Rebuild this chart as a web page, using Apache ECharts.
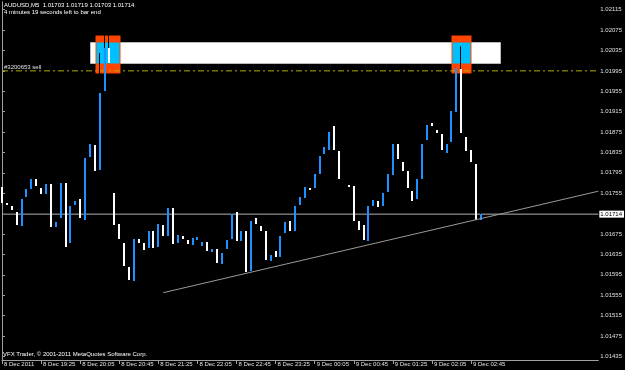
<!DOCTYPE html>
<html><head><meta charset="utf-8">
<script src="https://cdn.jsdelivr.net/npm/echarts@6/dist/echarts.min.js"></script>
<style>html,body{margin:0;padding:0;background:#000}#c{width:625px;height:370px}</style>
</head><body><div id="c"></div>
<script>
// AUDUSD M5 bars, 8 Dec 2011 18:45 -> 9 Dec 2011 02:55
const opens = [1.01767,1.01736,1.01729,1.01718,1.01691,1.01747,1.01763,1.01783,1.01765,1.01754,
1.01773,1.01689,1.01706,1.01775,1.01656,1.01732,1.01743,1.01703,1.01826,1.01850,
1.01801,1.01954,1.02039,1.01755,1.01695,1.01657,1.01610,1.01582,1.01665,1.01658,
1.01647,1.01680,1.01649,1.01692,1.01671,1.01726,1.01657,1.01671,1.01664,1.01654,
1.01665,1.01652,1.01659,1.01641,1.01646,1.01616,1.01646,1.01666,1.01718,1.01662,
1.01681,1.01602,1.01706,1.01691,1.01681,1.01622,1.01641,1.01631,1.01677,1.01700,
1.01679,1.01732,1.01745,1.01765,1.01765,1.01793,1.01832,1.01841,1.01887,1.01837,
1.01783,1.01771,1.01770,1.01701,1.01693,1.01660,1.01730,1.01739,1.01731,1.01758,
1.01790,1.01851,1.01817,1.01799,1.01760,1.01744,1.01783,1.01860,1.01892,1.01879,
1.01871,1.01835,1.01855,1.01914,1.01999,1.01866,1.01840,1.01812,1.01703];
const closes = [1.01736,1.01732,1.01722,1.01693,1.01743,1.01763,1.01783,1.01770,1.01753,1.01773,
1.01689,1.01698,1.01775,1.01649,1.01729,1.01739,1.01706,1.01824,1.01852,1.01799,
1.01952,1.02039,1.02010,1.01693,1.01666,1.01611,1.01585,1.01665,1.01658,1.01645,
1.01680,1.01647,1.01694,1.01671,1.01726,1.01656,1.01673,1.01665,1.01656,1.01667,
1.01670,1.01660,1.01641,1.01646,1.01618,1.01638,1.01664,1.01715,1.01662,1.01681,
1.01600,1.01701,1.01694,1.01681,1.01624,1.01633,1.01629,1.01672,1.01698,1.01681,
1.01729,1.01747,1.01767,1.01762,1.01793,1.01829,1.01845,1.01876,1.01839,1.01783,
1.01783,1.01768,1.01701,1.01683,1.01664,1.01729,1.01741,1.01728,1.01756,1.01793,
1.01851,1.01822,1.01799,1.01765,1.01741,1.01783,1.01851,1.01889,1.01886,1.01873,
1.01839,1.01852,1.01916,1.02001,1.01873,1.01839,1.01816,1.01703,1.01714];
const highs = [1.01767,1.01736,1.01729,1.01718,1.01743,1.01763,1.01783,1.01783,1.01765,1.01773,
1.01773,1.01698,1.01775,1.01775,1.01729,1.01739,1.01743,1.01824,1.01852,1.01850,
1.02030,1.02066,1.02066,1.01755,1.01695,1.01657,1.01610,1.01665,1.01665,1.01658,
1.01680,1.01680,1.01694,1.01692,1.01726,1.01726,1.01673,1.01671,1.01664,1.01667,
1.01670,1.01660,1.01659,1.01646,1.01646,1.01638,1.01664,1.01715,1.01718,1.01681,
1.01681,1.01701,1.01706,1.01691,1.01681,1.01633,1.01641,1.01672,1.01698,1.01700,
1.01729,1.01747,1.01767,1.01765,1.01793,1.01829,1.01845,1.01876,1.01887,1.01837,
1.01785,1.01771,1.01770,1.01701,1.01693,1.01729,1.01741,1.01739,1.01756,1.01793,
1.01851,1.01851,1.01817,1.01799,1.01760,1.01783,1.01851,1.01889,1.01892,1.01879,
1.01871,1.01852,1.01916,1.02001,1.02043,1.01866,1.01840,1.01812,1.01719];
const lows = [1.01736,1.01732,1.01722,1.01693,1.01691,1.01747,1.01763,1.01770,1.01753,1.01754,
1.01689,1.01689,1.01706,1.01649,1.01656,1.01732,1.01706,1.01703,1.01826,1.01799,
1.01801,1.01954,1.02010,1.01693,1.01666,1.01611,1.01585,1.01582,1.01658,1.01645,
1.01647,1.01647,1.01649,1.01671,1.01671,1.01656,1.01657,1.01665,1.01656,1.01654,
1.01665,1.01652,1.01641,1.01641,1.01618,1.01616,1.01646,1.01666,1.01662,1.01662,
1.01600,1.01602,1.01694,1.01681,1.01624,1.01622,1.01629,1.01631,1.01677,1.01681,
1.01679,1.01732,1.01745,1.01762,1.01765,1.01793,1.01832,1.01841,1.01839,1.01783,
1.01775,1.01768,1.01701,1.01683,1.01664,1.01660,1.01730,1.01728,1.01731,1.01758,
1.01790,1.01822,1.01799,1.01765,1.01741,1.01744,1.01783,1.01860,1.01886,1.01873,
1.01839,1.01835,1.01855,1.01914,1.01873,1.01839,1.01816,1.01703,1.01703];

const xTickIdx = [0,8,16,24,32,40,48,56,64,72,80,88,96];
const xTickLabels = ['8 Dec 2011','8 Dec 19:25','8 Dec 20:05','8 Dec 20:45','8 Dec 21:25','8 Dec 22:05',
  '8 Dec 22:45','8 Dec 23:25','9 Dec 00:05','9 Dec 00:45','9 Dec 01:25','9 Dec 02:05','9 Dec 02:45'];
const yTickLabels = ['1.02115','1.02075','1.02035','1.01995','1.01955','1.01915','1.01875','1.01835',
  '1.01795','1.01755','1.01675','1.01635','1.01595','1.01555','1.01515','1.01475','1.01435'];

// chart objects: [fromBar, toBar, lowPrice, highPrice]
const whiteZone = [[18.0, 101.9, 1.02011, 1.02052]];
const orangeZones = [[19.0, 24.1, 1.01992, 1.02066], [92.0, 96.0, 1.01992, 1.02066]];
const cyanZones = [[19.2, 23.9, 1.02011, 1.02052], [92.15, 95.85, 1.02011, 1.02052]];
const sellLevel = 1.01995;
const sellLabel = '#3200653 sell';
const bidPrice = 1.01714;
const trendLine = [[33, 1.01560], [122.05, 1.01759]];
const xSpan = [0, 122.05];
const headerLines = ['AUDUSD,M5  1.01703 1.01719 1.01703 1.01714', '4 minutes 19 seconds left to bar end'];
const footerText = 'VFX Trader, \u00a9 2001-2011 MetaQuotes Software Corp.';

const FONT = 'Liberation Sans, Arial, sans-serif';
const SELL_COLOR = '#b0aa00';
const candleData = opens.map((o, i) => [i, o, closes[i], lows[i], highs[i]]);

function zoneSeries(data, fill, stroke, z) {
  return {
    type: 'custom', z: z, silent: true, clip: true,
    data: data,
    renderItem: function (params, api) {
      const p0 = api.coord([api.value(0), api.value(3)]);
      const p1 = api.coord([api.value(1), api.value(2)]);
      return { type: 'rect',
        shape: { x: Math.round(p0[0]) + 0.5, y: Math.round(p0[1]) + 0.5,
                 width: Math.round(p1[0] - p0[0]), height: Math.round(p1[1] - p0[1]) },
        style: { fill: fill, stroke: stroke, lineWidth: stroke ? 1 : 0 } };
    }
  };
}

const chart = echarts.init(document.getElementById('c'), null, { renderer: 'canvas' });
chart.setOption({
  animation: false,
  backgroundColor: '#000000',
  grid: { left: 2, right: 23, top: 2, bottom: 10 },
  xAxis: {
    type: 'value', min: xSpan[0], max: xSpan[1],
    axisLine: { show: true, lineStyle: { color: '#a0a0a0', width: 1 } },
    splitLine: { show: false },
    axisTick: { show: true, length: 4, customValues: xTickIdx, lineStyle: { color: '#a0a0a0' } },
    axisLabel: { customValues: xTickIdx, color: '#e0e0e0', fontSize: 6, fontFamily: FONT,
      align: 'left', margin: 1, padding: [0, 0, 0, 2], showMinLabel: true,
      formatter: v => xTickLabels[xTickIdx.indexOf(Math.round(v))] || '' }
  },
  yAxis: [{
    type: 'value', position: 'right', min: 1.01428, max: 1.02130, scale: true,
    axisLine: { show: true, lineStyle: { color: '#a0a0a0', width: 1 } },
    splitLine: { show: false },
    axisTick: { show: true, length: 3, customValues: yTickLabels.map(Number), lineStyle: { color: '#a0a0a0' } },
    axisLabel: { customValues: yTickLabels.map(Number), color: '#e0e0e0', fontSize: 6, fontFamily: FONT, margin: 2,
      formatter: v => v.toFixed(5) }
  }, {
    type: 'value', position: 'left', min: 1.01428, max: 1.02130, scale: true,
    axisLine: { show: true, onZero: false, lineStyle: { color: '#a0a0a0', width: 1 } },
    axisTick: { show: false }, axisLabel: { show: false }, splitLine: { show: false }
  }],
  graphic: [
    { type: 'text', left: 4, top: 2, silent: true, style: { text: headerLines[0], fill: '#ffffff', font: '6px ' + FONT } },
    { type: 'text', left: 4, top: 9, silent: true, style: { text: headerLines[1], fill: '#ffffff', font: '6px ' + FONT } },
    { type: 'text', left: 3, top: 351, silent: true, style: { text: footerText, fill: '#ffffff', font: '6px ' + FONT } }
  ],
  series: [
    zoneSeries(whiteZone, '#ffffff', '#b8b8b8', 1),
    zoneSeries(orangeZones, '#ff4500', null, 2),
    zoneSeries(cyanZones, '#00bfff', null, 3),
    {
      type: 'line', z: 4, silent: true, symbol: 'none',
      data: [[xSpan[0], sellLevel], [xSpan[1], sellLevel]],
      itemStyle: { color: SELL_COLOR },
      lineStyle: { color: SELL_COLOR, width: 1, type: [6, 3, 2, 3] },
      markLine: {
        silent: true, symbol: ['none', 'none'], animation: false, precision: 5,
        lineStyle: { color: 'rgba(0,0,0,0)', width: 1, opacity: 1 },
        label: { show: true, position: 'insideStartTop', formatter: sellLabel, color: '#e0e0e0',
          fontSize: 6, fontFamily: FONT, distance: [2, 1], opacity: 1 },
        data: [ { yAxis: sellLevel } ]
      }
    },
    {
      type: 'line', z: 4, silent: true, symbol: 'none',
      data: [[xSpan[0], bidPrice], [xSpan[1], bidPrice]],
      itemStyle: { color: '#b4b4b4' },
      lineStyle: { color: '#b4b4b4', width: 1 },
      markLine: {
        silent: true, symbol: ['none', 'none'], animation: false, precision: 5,
        lineStyle: { color: 'rgba(0,0,0,0)', width: 1, opacity: 1 },
        label: { show: true, position: 'end', formatter: bidPrice.toFixed(5), color: '#000',
          backgroundColor: '#ffffff', fontSize: 6, fontFamily: FONT, padding: [1, 2, 0, 1], distance: 1, opacity: 1 },
        data: [ { yAxis: bidPrice } ]
      }
    },
    {
      type: 'custom', z: 5, silent: true, clip: false,
      data: candleData,
      renderItem: function (params, api) {
        const i = api.value(0), o = api.value(1), c = api.value(2), l = api.value(3), h = api.value(4);
        const pO = api.coord([i, o]);
        const yC = api.coord([i, c])[1], yH = api.coord([i, h])[1], yL = api.coord([i, l])[1];
        const cx = Math.round(pO[0]);
        const top = Math.min(pO[1], yC), bot = Math.max(pO[1], yC);
        const children = [{ type: 'line', shape: { x1: cx - 0.5, y1: yH, x2: cx - 0.5, y2: yL },
          style: { stroke: '#000000', lineWidth: 1 } }];
        if (o !== c) {
          children.push({ type: 'rect',
            shape: { x: cx - 1, y: Math.round(top), width: 2, height: Math.max(1, Math.round(bot - top)) },
            style: { fill: c > o ? '#1e90ff' : '#ffffff' } });
        }
        return { type: 'group', children: children };
      }
    },
    {
      type: 'line', z: 6, silent: true, data: trendLine, symbol: 'none',
      lineStyle: { color: '#9a9a9a', width: 1 }
    }
  ]
});
</script></body></html>
